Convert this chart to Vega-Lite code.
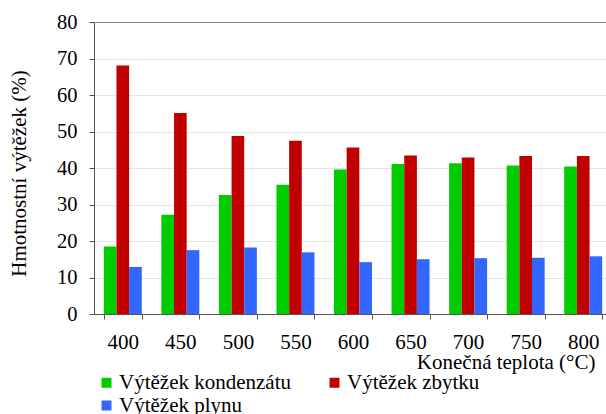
{
  "$schema": "https://vega.github.io/schema/vega-lite/v6.json",
  "width": 518,
  "height": 292,
  "autosize": {"type": "none"},
  "padding": {"left": 94, "top": 22, "right": 0, "bottom": 100},
  "background": "white",
  "data": {
    "values": [
      {"t": "400", "s": "Výtěžek kondenzátu", "o": 1, "v": 18.5},
      {"t": "400", "s": "Výtěžek zbytku", "o": 2, "v": 68.1},
      {"t": "400", "s": "Výtěžek plynu", "o": 3, "v": 12.9},
      {"t": "450", "s": "Výtěžek kondenzátu", "o": 1, "v": 27.2},
      {"t": "450", "s": "Výtěžek zbytku", "o": 2, "v": 55.1},
      {"t": "450", "s": "Výtěžek plynu", "o": 3, "v": 17.5},
      {"t": "500", "s": "Výtěžek kondenzátu", "o": 1, "v": 32.6},
      {"t": "500", "s": "Výtěžek zbytku", "o": 2, "v": 48.8},
      {"t": "500", "s": "Výtěžek plynu", "o": 3, "v": 18.2},
      {"t": "550", "s": "Výtěžek kondenzátu", "o": 1, "v": 35.4},
      {"t": "550", "s": "Výtěžek zbytku", "o": 2, "v": 47.5},
      {"t": "550", "s": "Výtěžek plynu", "o": 3, "v": 16.9},
      {"t": "600", "s": "Výtěžek kondenzátu", "o": 1, "v": 39.6},
      {"t": "600", "s": "Výtěžek zbytku", "o": 2, "v": 45.6},
      {"t": "600", "s": "Výtěžek plynu", "o": 3, "v": 14.2},
      {"t": "650", "s": "Výtěžek kondenzátu", "o": 1, "v": 41.1},
      {"t": "650", "s": "Výtěžek zbytku", "o": 2, "v": 43.4},
      {"t": "650", "s": "Výtěžek plynu", "o": 3, "v": 15.0},
      {"t": "700", "s": "Výtěžek kondenzátu", "o": 1, "v": 41.3},
      {"t": "700", "s": "Výtěžek zbytku", "o": 2, "v": 42.9},
      {"t": "700", "s": "Výtěžek plynu", "o": 3, "v": 15.3},
      {"t": "750", "s": "Výtěžek kondenzátu", "o": 1, "v": 40.7},
      {"t": "750", "s": "Výtěžek zbytku", "o": 2, "v": 43.3},
      {"t": "750", "s": "Výtěžek plynu", "o": 3, "v": 15.4},
      {"t": "800", "s": "Výtěžek kondenzátu", "o": 1, "v": 40.4},
      {"t": "800", "s": "Výtěžek zbytku", "o": 2, "v": 43.3},
      {"t": "800", "s": "Výtěžek plynu", "o": 3, "v": 15.8}
    ]
  },
  "mark": {"type": "bar"},
  "encoding": {
    "x": {
      "field": "t",
      "type": "nominal",
      "sort": null,
      "scale": {"paddingInner": 0.34, "paddingOuter": 0.17},
      "axis": {
        "title": "Konečná teplota (°C)",
        "titleFontSize": 21,
        "titleFontWeight": "normal",
        "titleColor": "#000",
        "titleAlign": "right",
        "titleAnchor": null,
        "titleX": 501,
        "titleY": 54,
        "titleBaseline": "alphabetic",
        "labelFontSize": 21,
        "labelColor": "#000",
        "labelAngle": 0,
        "labelPadding": 12,
        "tickBand": "extent",
        "tickSize": 5,
        "tickColor": "#555",
        "domainColor": "#555",
        "grid": false
      }
    },
    "xOffset": {"field": "s", "type": "nominal", "sort": {"field": "o"}, "scale": {"paddingInner": 0, "paddingOuter": 0}},
    "y": {
      "field": "v",
      "type": "quantitative",
      "scale": {"domain": [0, 80], "nice": false},
      "axis": {
        "title": "Hmotnostní výtěžek (%)",
        "titleFontSize": 21,
        "titleFontWeight": "normal",
        "titleColor": "#000",
        "titlePadding": 27,
        "titleY": 151,
        "values": [0, 10, 20, 30, 40, 50, 60, 70, 80],
        "labelFontSize": 20.5,
        "labelColor": "#000",
        "labelPadding": 12,
        "tickSize": 5,
        "tickColor": "#555",
        "domainColor": "#555",
        "grid": true,
        "gridColor": {"condition": {"test": "datum.value === 80", "value": "#8a8a8a"}, "value": "#e4e4e4"},
        "gridWidth": 1
      }
    },
    "color": {
      "field": "s",
      "type": "nominal",
      "sort": {"field": "o"},
      "scale": {
        "domain": ["Výtěžek kondenzátu", "Výtěžek zbytku", "Výtěžek plynu"],
        "range": ["#00CC00", "#C00000", "#3366FF"]
      },
      "legend": {
        "title": null,
        "orient": "none",
        "legendX": 2,
        "legendY": 350,
        "columns": 2,
        "direction": "horizontal",
        "symbolType": "square",
        "symbolSize": 100,
        "symbolStrokeWidth": 0,
        "labelFontSize": 21,
        "labelColor": "#000",
        "labelOffset": 2,
        "labelLimit": 300,
        "columnPadding": 32,
        "rowPadding": 1,
        "padding": 0
      }
    }
  },
  "config": {
    "font": "Liberation Serif",
    "view": {"stroke": null},
    "axis": {"domainWidth": 1, "tickWidth": 1, "labelFont": "Liberation Serif", "titleFont": "Liberation Serif"},
    "legend": {"labelFont": "Liberation Serif"}
  }
}
